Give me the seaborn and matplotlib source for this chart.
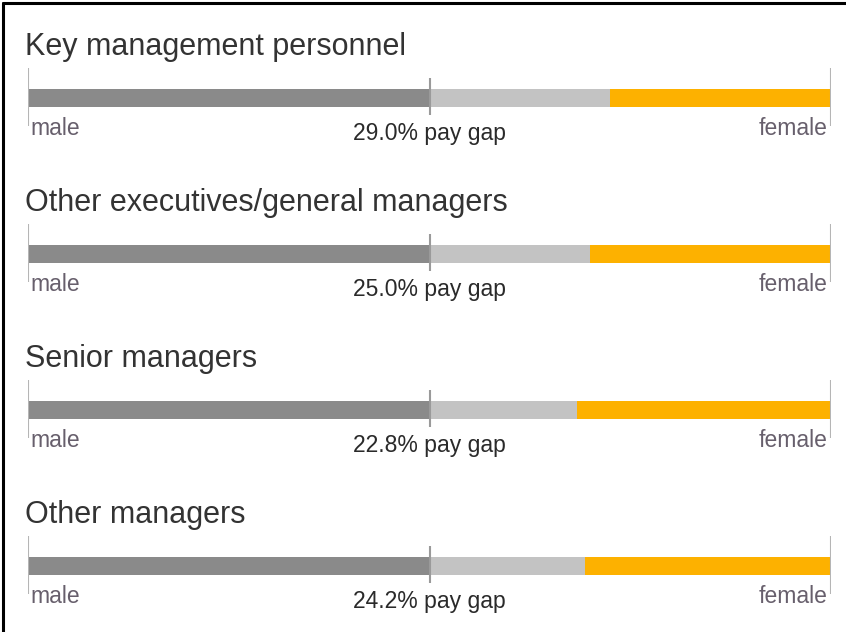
import pandas as pd
import matplotlib
matplotlib.use("Agg")
import matplotlib.pyplot as plt
from matplotlib.lines import Line2D
import seaborn as sns

# data
categories = ["Key management personnel", "Other executives/general managers",
              "Senior managers", "Other managers"]
pay_gap = [29.0, 25.0, 22.8, 24.2]
# where the female (orange) part starts, as % of bar length
female_start = [72.5, 70.0, 68.4, 69.4]
male_end = [50, 50, 50, 50]
bar_total = [100, 100, 100, 100]


def main():
    sns.set_theme(style="white")
    plt.rcParams["font.family"] = ["Liberation Sans", "DejaVu Sans"]

    df = pd.DataFrame({
        "category": categories,
        "total": bar_total,
        "female_start": female_start,
        "male_end": male_end,
        "gap": pay_gap,
    })

    W, H = 846, 632
    fig = plt.figure(figsize=(W / 100, H / 100), dpi=100)
    fig.patch.set_facecolor("white")
    # axes: bar runs from pixel 28 to 831
    ax = fig.add_axes([28 / W, 0, 803 / W, 1])
    row = 156.0  # pixels between rows
    c0 = 98.0    # pixel centre of first bar

    bw = 18 / row
    sns.barplot(data=df, x="total", y="category", orient="h", color="#fdb100",
                saturation=1, width=bw, linewidth=0, ax=ax)
    sns.barplot(data=df, x="female_start", y="category", orient="h", color="#c3c3c3",
                saturation=1, width=bw, linewidth=0, ax=ax)
    sns.barplot(data=df, x="male_end", y="category", orient="h", color="#8a8a8a",
                saturation=1, width=bw, linewidth=0, ax=ax)

    ax.set_xlim(0, 100)
    ax.set_ylim((H - c0) / row, -c0 / row)
    ax.axis("off")

    px = row  # helper: pixel offsets -> data units
    for i, r in df.iterrows():
        # tick marks
        ax.vlines([0, 100], i - 30 / px, i + 28 / px, color="#b5b5b5", lw=1.5, zorder=5)
        ax.vlines(50, i - 20 / px, i + 17 / px, color="#9a9a9a", lw=1.5, zorder=5)
        ax.text(-0.4, i - 43 / px, r["category"], fontsize=22, color="#333333",
                va="baseline", ha="left")
        ax.text(0.3, i + 37 / px, "male", fontsize=16.5, color="#675f6c",
                va="baseline", ha="left")
        ax.text(99.6, i + 37 / px, "female", fontsize=16.5, color="#675f6c",
                va="baseline", ha="right")
        ax.text(50, i + 42 / px, f"{r['gap']:.1f}% pay gap", fontsize=16.5,
                color="#2a2a2a", va="baseline", ha="center")

    # frame lines (top and left) of the screenshot
    fig.add_artist(Line2D([3 / W, 3 / W], [0, 1 - 3 / H], color="black", lw=2.2))
    fig.add_artist(Line2D([3 / W, 1], [1 - 3 / H, 1 - 3 / H], color="black", lw=2.2))

    fig.savefig("out.png", dpi=100)


if __name__ == "__main__":
    main()
